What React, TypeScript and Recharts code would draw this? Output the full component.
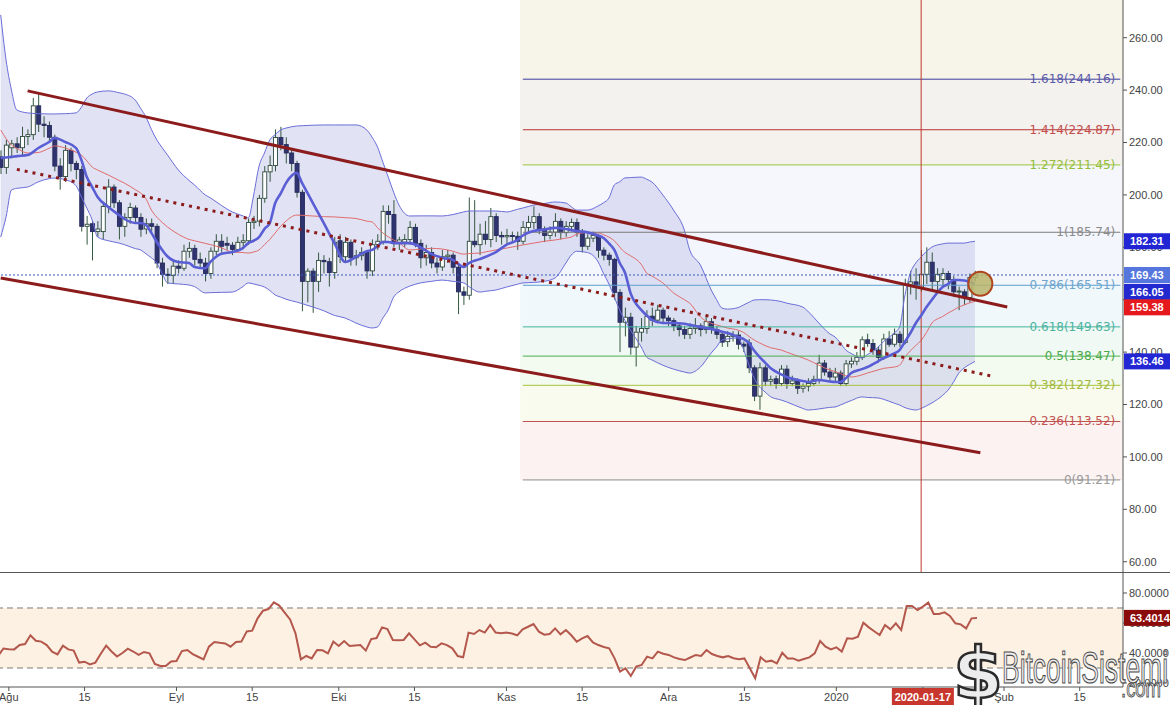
import React from 'react';
import {
  ComposedChart, Bar, Line, Area, XAxis, YAxis,
  ReferenceLine, ReferenceArea, ReferenceDot,
} from 'recharts';

type OHLC = [number, number, number, number];

// ---- daily candles [open, high, low, close], first one = Jul 30 2019 ----
const candlesJul: OHLC[] = [[214.5,217,208,210.5],[210.5,221,208,219]];
const candlesAug: OHLC[] = [
  [218,221,214,219.5],[219.5,222,216,218],[218,226,215,222.3],[222.3,225,219,223],[223,237,221,234],
  [234,239,224,227],[227,230,222,226.5],[226.5,228,220,222],[222,223,209,211],[211,214,202,207],
  [207,219,205,217],[217,218,209,212],[212,213,206,209.7],[209.7,211,186,188],[188,192,181,188.8],
  [189,190,175,186],[186,190,184,187],[186,197,183,195.6],[195.6,206,193,203],[203,204,195,197],
  [197,198,183,188],[188,193,184,191.4],[191.4,197,189,195.2],[195,196,189,191.4],[191.4,193,184,186.9],
  [187,191,185,189],[189,191,186,188],[188,189,172,174],[174,176,165,169.7],[169.7,172,166,169.3],
  [169.3,175,166,172.8],
];
const candlesSep: OHLC[] = [
  [172.8,175,170,172],[172,181,171,178.5],[178.5,182,176,179.6],[179.6,181,173,175.4],[175.4,178,172,174],
  [174,176,167,170],[170,180,168,178.5],[178.5,185,177,182.3],[182.3,185,178,180.4],[181.5,184,179,180.8],
  [180.8,182,177,179.2],[179.2,184,178,181.9],[181.9,185,180,182.5],[182.5,191,181,189.5],[189.5,192,187,190],
  [190,200,188,198.7],[198.7,211,197,208.8],[208.8,215,205,211.2],[211.2,225,209,221.9],[221.9,226,217,219.2],
  [219.2,222,212,216],[216,217,209,212],[212,213,199,201],[201,202,155.6,167],[167,172,159,170.9],
  [170.9,172,155,167],[167,178,163,175],[175,177,170,174.5],[174.5,176,165,170.4],[170.4,184,168,181.9],
];
const candlesOct: OHLC[] = [
  [182.5,185,174,176.4],[176.4,184,174,181.9],[181.9,183,173,176],[176,179,173,176.8],[176.8,180,175,178],
  [178,179,168,171],[171,183,169,181],[181,185,179,182.3],[182.3,196,181,193.7],[193.7,196,189,192.5],
  [192.5,198,180,181.9],[181.9,184,179,182.8],[182,185,180,183],[183,190,181,187.6],[187.6,189,180,181.5],
  [181.5,183,172,176],[176,181,173,178],[178,180,172,174],[174,176,170,172.5],[172.5,179,171,176.4],
  [176.4,179,174,177],[177,178,170,172.4],[172.4,174,154.5,163],[163,165,158,161.7],[161.7,199,160,182.3],
  [182.3,198,180,181],[181,189,177,185],[185,190,181,183],[183,195,180,191.7],[191.7,193,182,184.5],
  [184.5,186,181,184],
];
const candlesNov: OHLC[] = [
  [184,187,181,184.5],[184.5,186,182,184.2],[184.2,186,179,182.3],[182.3,190,181,187.6],[187.6,192,186,189.5],
  [189.5,195.6,187,191.7],[191.7,193,185,187],[187,188,182,184.5],[184.5,188,183,185.8],[185.8,193,184,189.9],
  [189.9,191,183,185.6],[185.6,190,184,188],[188,191,186,189.5],[189.5,191,184,185.6],[185.6,187,178,180.4],
  [180.4,185,179,183.5],[183.5,186,182,184.5],[184.5,185,176,178.9],[178.9,180,175,177],[177,178,173,175.4],
  [175.4,176,160,162.8],[162.8,164,140,151.4],[151.4,157,146,153.3],[153.3,155,139,141.9],[141.9,150,134.5,147.6],
  [147.6,153,144,149],[149,156,147,153.7],[153.7,157,150,152.2],[152.2,158,151,156],[156,157,151,153],
];
const candlesDec: OHLC[] = [
  [153,154,150,152],[152,153,148,150],[150,151,146,148.6],[148.6,150,145,146.8],[146.8,151,145,149],
  [149,153,147,149.6],[150,151,146,148.6],[148.6,154,147,151.6],[151.6,153,147,148.6],[148.6,150,145,146.8],
  [146.8,148,142,143.8],[144,148,142,146],[146,148,144,146.5],[146.5,148,141,143],[143,144,140,142.3],
  [143.5,145,132,134],[134,135,121.3,123.2],[123.2,136,118,134],[134,135,127,128.9],[128.9,131,127,129.5],
  [129.8,131,126,128],[128,135,127,133.5],[133.5,135,126,128],[128,131,127,129],[129,130,124,126.2],
  [126.2,128,124.5,127],[127,130,125,128],[128,131,127,129.6],[129.6,139,128,135.8],[135.8,137,131,132.4],
  [132.4,134,129,130.5],
];
const candlesJan: OHLC[] = [
  [130.5,134,129,132],[132,133,127,128],[128,137,127,135.5],[135.5,138,134,136.5],[136.5,140,135,138],
  [138,146,137,144.7],[144.7,147,142,143.3],[143.3,145,139,140.8],[140.8,142,136,138],[138,147,137,145],
  [145,148,142,143],[143,149,142,146.8],[146.8,148,142,143.7],[143.7,168,143,165.9],[165.9,171,162,166.8],
  [166.8,172,160,164.8],[164.8,179,163,169.7],[169.7,180,166,174.3],[174.3,178,164,167],[167,172,163,169.7],
  [167.7,172,165,170],[170,171,164,167.7],[167.7,169,161,163],[163,165,156,163.3],[163,164,158,160.8],
  [160.8,170,159,168.5],[168.5,171,167,169.43],
];

// ---- RSI per day ----
const rsiJul = [38, 43];
const rsiAug = [42.5,42.4,45.3,46,51.8,48.2,47.6,45.3,40.9,39.1,44.9,42.4,41.6,33.6,34.2,32.4,33.6,39.5,44.9,41,37.6,40,42.9,41,38.7,40.7,39.8,32.7,31.3,31.3,34.4];
const rsiSep = [34.7,41.3,42,39.3,37.5,35.8,44.2,47.3,46.8,46.4,44.2,47.3,47.6,54.4,54.9,63.1,68.2,69.3,73.8,71.6,66.9,62.4,53.1,35.8,38,36.4,42,41.8,39.8,47.6];
const rsiOct = [44.7,48,44.7,45,45.3,41.6,49.3,50,57.1,56,48.7,48.5,48.7,53.1,49.1,45.1,46.9,44.2,43.8,46.4,45.3,43.1,38,37.1,53.6,52.7,55.3,53.6,58.7,53.6,53.1];
const rsiNov = [53.6,53,51.8,55.8,57.5,59.3,54.2,52.2,52.7,56.4,52.4,55.3,51.8,47.5,49.8,51.3,47,45.3,44,43.1,36.4,27.6,29.8,24.7,30.9,32,37.6,36.4,40.9,39.5];
const rsiDec = [38.7,37.1,36,35.3,37,38.7,38,42,39.3,38,37.1,38,36.5,35.8,36.4,29.8,23.1,37.1,34.2,34.9,33.1,40.2,36.4,36.4,34.9,36,37.1,39.8,48,44.2,42.4];
const rsiJan = [43.8,40.9,49.8,49.5,50.9,60.2,57.1,54.5,52,58.7,55.8,59.8,55.3,71.3,71.3,68.7,70.9,73.6,66,66,67.1,64.7,59.8,59.1,56.4,63.1,63.4014];

// ---- Bollinger bands & moving average, read as [day, value] ----
const bbUpper: [number, number][] = [[-2,268.7],[-1,251.5],[0,240.0],[1,232.4],[3,231.3],[5,231.0],[7,230.9],[8,230.9],[10,231.0],[12,231.3],[13,233.5],[14,237.0],[15,238.5],[16,239.3],[18,239.7],[20,239.0],[21,238.5],[23,236.2],[24,233.0],[25,229.7],[26,225.0],[27,221.0],[28,218.0],[29,215.2],[31,209.5],[33,205.5],[34,203.8],[36,200.0],[37,198.8],[39,196.0],[41,193.5],[43,192.0],[44,191.2],[45,200.0],[46,211.0],[47,216.0],[48,221.0],[49,223.0],[50,224.8],[51,225.5],[53,226.3],[54,226.4],[56,226.6],[58,226.7],[60,226.7],[62,226.7],[64,226.7],[66,224.8],[67,222.0],[68,218.3],[69,212.5],[70,206.8],[71,201.0],[72,196.1],[74,191.95],[76,192.0],[78,192.0],[80,191.95],[82,192.5],[84,193.5],[85,193.86],[87,193.86],[88,193.86],[90,193.86],[92,193.5],[94,194.5],[95,195.0],[97,196.1],[99,196.7],[101,197.3],[103,196.9],[104,195.5],[105,194.2],[107,194.2],[109,195.8],[110,197.0],[111,198.8],[112,203.8],[113,205.0],[114,206.5],[115,206.6],[117,206.8],[118,206.0],[119,204.9],[121,200.0],[123,194.2],[125,186.6],[126,179.0],[128,173.2],[130,163.7],[131,160.0],[132,156.8],[133,156.4],[135,157.0],[136,158.0],[137,159.0],[138,159.9],[139,160.0],[140,160.0],[141,159.9],[143,159.3],[144,158.7],[147,157.2],[148,155.5],[150,151.1],[152,147.0],[153,145.8],[154,143.5],[155,140.8],[156,139.5],[158,137.8],[159,139.0],[161,141.9],[162,144.0],[164,147.3],[165,149.6],[166,161.8],[167,170.2],[168,174.0],[169,176.3],[170,178.5],[171,180.1],[173,181.3],[174,181.6],[175,181.6],[176,181.6],[177,181.6],[178,182.0],[179,182.31]];
const bbLower: [number, number][] = [[-2,183.9],[-1,191.6],[0,201.9],[1,202.5],[3,203.0],[5,205.0],[7,206.2],[8,206.45],[10,205.8],[12,203.5],[13,199.2],[14,195.0],[15,190.4],[16,183.9],[18,182.5],[20,181.6],[21,181.0],[23,179.5],[24,179.0],[25,177.5],[26,176.0],[27,174.0],[28,170.0],[29,166.4],[31,166.0],[33,165.6],[34,165.0],[36,162.6],[37,162.7],[39,162.8],[41,162.9],[43,165.0],[44,166.4],[45,166.0],[46,165.5],[47,164.85],[48,163.5],[49,161.8],[50,161.0],[51,160.2],[53,159.1],[54,158.5],[56,157.2],[58,155.8],[60,154.0],[62,153.0],[64,151.1],[66,149.6],[67,149.2],[68,149.6],[69,153.0],[70,156.1],[71,161.0],[72,163.0],[74,165.2],[76,166.4],[78,167.0],[80,167.5],[82,167.0],[84,166.4],[85,165.0],[87,162.9],[88,163.2],[90,163.7],[92,164.85],[94,165.9],[95,166.4],[97,166.6],[99,167.0],[101,168.3],[103,174.0],[104,177.06],[105,178.5],[107,178.0],[109,174.4],[110,170.0],[111,166.0],[112,161.0],[113,156.0],[114,152.0],[115,148.4],[117,141.95],[118,138.1],[119,137.0],[121,135.0],[123,133.5],[125,132.4],[126,132.0],[128,134.3],[130,139.66],[131,142.0],[132,144.6],[133,145.0],[135,145.4],[136,141.0],[137,135.1],[138,130.0],[139,126.7],[140,124.8],[141,123.0],[143,121.7],[144,121.0],[147,118.5],[148,117.9],[150,118.3],[152,118.9],[153,119.05],[154,119.8],[155,120.7],[156,121.5],[158,122.9],[159,122.7],[161,122.5],[162,122.0],[164,120.5],[165,119.8],[166,118.8],[167,118.2],[168,117.9],[169,118.5],[170,119.5],[171,120.6],[173,123.5],[174,125.5],[175,128.5],[176,132.0],[177,134.0],[178,135.3],[179,136.46]];
const bbMiddle: [number, number][] = [[-2,224.8],[-1,221.5],[0,219.0],[1,217.8],[3,216.0],[5,216.2],[7,217.8],[8,218.7],[10,217.9],[12,216.3],[13,215.2],[14,213.0],[15,210.65],[16,209.5],[18,207.6],[20,205.5],[21,204.5],[23,202.0],[24,200.7],[25,198.5],[26,194.2],[27,191.5],[28,189.5],[29,187.75],[31,185.0],[33,183.0],[34,182.5],[36,181.5],[37,181.0],[39,179.8],[41,178.2],[43,178.0],[44,177.8],[45,178.2],[46,179.0],[47,181.0],[48,183.0],[49,185.5],[50,188.0],[51,190.0],[53,192.3],[54,192.2],[56,191.95],[58,191.7],[60,191.6],[62,191.3],[64,191.0],[66,190.0],[67,189.66],[68,187.5],[69,185.5],[70,184.0],[71,182.8],[72,181.64],[74,179.0],[76,179.3],[78,179.6],[80,179.35],[82,178.5],[84,177.4],[85,177.6],[87,177.8],[88,178.2],[90,179.0],[92,179.7],[94,180.5],[95,180.9],[97,181.6],[99,182.3],[101,182.8],[103,183.5],[104,183.9],[105,185.0],[107,185.6],[109,185.5],[110,184.8],[111,183.9],[112,182.5],[113,180.1],[114,178.0],[115,176.8],[117,173.5],[118,170.2],[119,169.0],[121,166.4],[123,162.6],[125,160.0],[126,158.7],[128,153.4],[130,151.0],[131,150.4],[132,149.8],[133,149.2],[135,148.4],[136,147.5],[137,146.0],[138,144.6],[139,143.5],[140,142.5],[141,141.7],[143,140.8],[144,140.0],[147,137.8],[148,137.0],[150,135.0],[152,133.2],[153,132.6],[154,131.8],[155,131.0],[156,130.5],[158,131.3],[159,132.0],[161,133.2],[162,133.8],[164,134.3],[165,135.0],[166,138.1],[167,140.5],[168,142.5],[169,144.5],[170,147.5],[171,151.1],[173,153.6],[174,154.9],[175,156.0],[176,157.2],[177,158.0],[178,158.8],[179,159.38]];
const fastAverage: [number, number][] = [[-2,214.1],[-1,214.3],[0,214.5],[1,214.8],[3,215.2],[5,217.9],[7,220.2],[8,221.7],[10,220.2],[12,217.9],[13,213.3],[14,206.8],[15,203.0],[16,199.2],[18,195.4],[20,192.3],[21,190.8],[23,189.3],[24,189.3],[25,188.5],[26,185.5],[27,182.0],[28,179.0],[29,176.5],[31,174.4],[33,174.0],[34,172.5],[36,172.0],[37,174.5],[39,177.5],[41,178.2],[43,179.7],[44,181.6],[45,182.5],[46,183.9],[47,187.0],[48,189.3],[49,196.9],[50,200.5],[51,204.5],[53,208.4],[54,204.5],[56,196.9],[58,189.3],[60,181.6],[62,174.4],[64,176.3],[66,178.5],[67,179.0],[68,180.5],[69,182.0],[70,182.0],[71,181.6],[72,181.6],[74,181.6],[76,180.0],[78,177.5],[80,176.0],[82,175.2],[84,172.5],[85,174.0],[87,175.5],[88,176.3],[90,178.2],[92,181.0],[94,182.8],[95,184.5],[97,186.2],[99,186.8],[101,187.4],[103,187.0],[104,186.6],[105,186.2],[107,185.7],[109,184.5],[110,183.55],[111,181.5],[112,179.0],[113,174.0],[114,170.2],[115,162.6],[117,156.1],[118,154.0],[119,152.3],[121,151.1],[123,151.1],[125,150.8],[126,150.4],[128,149.6],[130,148.8],[131,148.4],[132,147.8],[133,147.3],[135,145.8],[136,145.0],[137,143.5],[138,140.5],[139,138.1],[140,136.0],[141,133.9],[143,131.5],[144,130.5],[147,129.0],[148,128.6],[150,129.35],[152,128.8],[153,128.6],[154,128.6],[155,130.0],[156,132.0],[158,133.5],[159,134.3],[161,136.5],[162,137.7],[164,139.5],[165,140.8],[166,144.0],[167,147.3],[168,151.0],[169,154.0],[170,157.2],[171,160.0],[173,164.85],[174,166.0],[175,167.5],[176,167.5],[177,167.3],[178,166.8],[179,166.05]];

// ---- Fibonacci levels ----
const fibRatios = ['1.618', '1.414', '1.272', '1', '0.786', '0.618', '0.5', '0.382', '0.236', '0'];
const fibValues = [244.16, 224.87, 211.45, 185.74, 165.51, 149.63, 138.47, 127.32, 113.52, 91.21];
const fibLineColors = ['#3b3b9c', '#b83232', '#9cc63c', '#7a7a7a', '#5b9fcf', '#44b39c', '#4caf50', '#a6c23c', '#c0504d', '#8c8c8c'];
const fibTextColors = ['#5a5aa8', '#c24e4e', '#93bd3f', '#8a8a8a', '#6ea5cc', '#4db3a0', '#49a949', '#a3b843', '#c25454', '#9a9a9a'];
const fibZoneColors = ['#f7f4ea', '#f3f2ee', '#f5f1ec', '#f6f6fd', '#f3f6fc', '#f1f8fb', '#f0f9f4', '#f3faef', '#fafbef', '#fcf2f2'];
const FIB_START_DAY = 95;
const FIB_END_DAY = 206;

// ---- drawings ----
const upperChannel: [number, number][] = [[3, 239.7], [185, 157.2]];
const lowerChannel: [number, number][] = [[-2, 168.25], [180, 101.6]];
const midTrend: [number, number][] = [[1, 209.75], [182, 130.9]];
const HIGHLIGHT_DAY = 169;
const circleMark: [number, number] = [180, 166.1];
const LAST_PRICE = 169.43;
const priceBadges = [
  { v: 182.31, bg: '#2125d4', shift: 0 },
  { v: 169.43, bg: '#5576dc', shift: 0 },
  { v: 166.05, bg: '#2229cf', shift: 8 },
  { v: 159.38, bg: '#e5191c', shift: 6 },
  { v: 136.46, bg: '#2327d3', shift: 0 },
];
const RSI_LAST = 63.4014;

// ---- axes ----
const FIRST_DAY = -2;
const LAST_DAY = 206;
const Y_MIN = 56.07;
const Y_MAX = 274.39;
const RSI_MIN = 17.33;
const RSI_MAX = 93.33;
const priceTicks = [60, 80, 100, 120, 140, 160, 180, 200, 220, 240, 260];
const rsiTicks = [20, 40, 60, 80];
const xTickDays = [0, 14, 31, 45, 61, 75, 92, 106, 122, 136, 153, 169, 184, 198];
const xTickLabels = ['Ağu', '15', 'Eyl', '15', 'Eki', '15', 'Kas', '15', 'Ara', '15', '2020', '2020-01-17', 'Şub', '15'];

const FONT = 'Liberation Sans, Arial, sans-serif';

// ---- build table ----
const allCandles: OHLC[] = [...candlesJul, ...candlesAug, ...candlesSep, ...candlesOct, ...candlesNov, ...candlesDec, ...candlesJan];
const allRsi: number[] = [...rsiJul, ...rsiAug, ...rsiSep, ...rsiOct, ...rsiNov, ...rsiDec, ...rsiJan];
const upMap = new Map(bbUpper);
const loMap = new Map(bbLower);
const midMap = new Map(bbMiddle);
const fastMap = new Map(fastAverage);

const rows: any[] = [];
for (let d = FIRST_DAY; d <= LAST_DAY; d++) {
  const i = d - FIRST_DAY;
  const k = allCandles[i];
  const up = upMap.get(d);
  const lo = loMap.get(d);
  rows.push({
    d,
    o: k ? k[0] : null,
    h: k ? k[1] : null,
    l: k ? k[2] : null,
    c: k ? k[3] : null,
    range: k ? [k[2], k[1]] : null,
    rsi: allRsi[i] ?? null,
    bbUp: up ?? null,
    bbLo: lo ?? null,
    bbBand: up != null && lo != null ? [lo, up] : null,
    bbMid: midMap.get(d) ?? null,
    fast: fastMap.get(d) ?? null,
  });
}

function Candle(props: any) {
  const { x, y, width, height, payload } = props;
  if (!payload || payload.c == null || y == null || height == null) return null;
  const { o, h, l, c } = payload;
  const top = Math.min(y, y + height);
  const bot = Math.max(y, y + height);
  const span = h - l;
  const k = span > 0 ? (bot - top) / span : 0;
  const py = (v: number) => top + (h - v) * k;
  const cx = x + width / 2;
  const up = c >= o;
  const bt = py(Math.max(o, c));
  const bb = py(Math.min(o, c));
  const bh = Math.max(1, bb - bt);
  return (
    <g>
      <line x1={cx} x2={cx} y1={top} y2={bot} stroke="#34573f" strokeWidth={1} />
      <rect x={cx - 2} y={bt} width={4} height={bh}
        fill={up ? '#ffffff' : '#2f3470'} stroke={up ? '#2c4a3a' : '#252a5c'} strokeWidth={0.9} />
    </g>
  );
}

function FibLabel(props: any) {
  const { viewBox, text, color } = props;
  if (!viewBox) return null;
  return (
    <text x={viewBox.x + viewBox.width - 5} y={viewBox.y + 4} textAnchor="end" fill={color}
      fontSize={12} fontFamily="DejaVu Sans, Verdana, sans-serif">{text}</text>
  );
}

function Badge(props: any) {
  const { viewBox, text, bg, shift = 0 } = props;
  if (!viewBox) return null;
  const x = viewBox.x + viewBox.width + 1;
  const y = viewBox.y + shift;
  return (
    <g>
      <rect x={x} y={y - 8} width={48} height={16} fill={bg} />
      <text x={x + 6} y={y + 4} fill="#ffffff" fontSize={11} fontWeight="bold" fontFamily={FONT}>{text}</text>
    </g>
  );
}

function XTick(props: any) {
  const { x, y, payload } = props;
  const i = xTickDays.indexOf(payload.value);
  const label = i >= 0 ? xTickLabels[i] : '';
  if (payload.value === HIGHLIGHT_DAY) {
    return (
      <g>
        <rect x={x - 31} y={y - 5} width={62} height={17} fill="#c8372d" />
        <text x={x} y={y + 8} textAnchor="middle" fill="#ffffff" fontSize={11} fontWeight="bold" fontFamily={FONT}>{label}</text>
      </g>
    );
  }
  return <text x={x} y={y + 8} textAnchor="middle" fill="#444" fontSize={11} fontFamily={FONT}>{label}</text>;
}

const yTickStyle = { fill: '#444', fontSize: 11, fontFamily: FONT };

export default function App() {
  const zoneBounds = [Y_MAX, ...fibValues];
  return (
    <div style={{ position: 'fixed', left: 0, top: 0, width: 1170, height: 705, overflow: 'hidden', background: '#fff' }}>
      {/* price panel */}
      <div style={{ position: 'absolute', left: -2, top: 0 }}>
        <ComposedChart width={1172} height={572} data={rows} margin={{ top: 0, right: 0, bottom: 0, left: 0 }}>
          <XAxis dataKey="d" hide />
          <YAxis orientation="right" width={47} domain={[Y_MIN, Y_MAX]} ticks={priceTicks} interval={0}
            allowDataOverflow tickFormatter={(v: number) => v.toFixed(2)} tick={yTickStyle}
            tickSize={4} axisLine={{ stroke: '#555' }} tickLine={{ stroke: '#555' }} />
          {fibZoneColors.map((col, i) => (
            <ReferenceArea key={'z' + i} x1={FIB_START_DAY} x2={FIB_END_DAY} y1={zoneBounds[i + 1]} y2={zoneBounds[i]}
              fill={col} fillOpacity={1} stroke="none" ifOverflow="hidden" />
          ))}
          <Area dataKey="bbBand" type="monotone" connectNulls fill="#c9cbeb" fillOpacity={0.55} stroke="none"
            isAnimationActive={false} dot={false} activeDot={false} />
          <Line dataKey="bbUp" type="monotone" connectNulls stroke="#6a6ed8" strokeWidth={1} dot={false} activeDot={false} isAnimationActive={false} />
          <Line dataKey="bbLo" type="monotone" connectNulls stroke="#6a6ed8" strokeWidth={1} dot={false} activeDot={false} isAnimationActive={false} />
          <Line dataKey="bbMid" type="monotone" connectNulls stroke="#e06c6c" strokeWidth={1} dot={false} activeDot={false} isAnimationActive={false} />
          {fibValues.map((v, i) => (
            <ReferenceLine key={'f' + i} segment={[{ x: FIB_START_DAY, y: v }, { x: FIB_END_DAY, y: v }]}
              stroke={fibLineColors[i]} strokeWidth={1} ifOverflow="visible"
              label={<FibLabel text={`${fibRatios[i]}(${v.toFixed(2)})`} color={fibTextColors[i]} />} />
          ))}
          <ReferenceLine y={LAST_PRICE} stroke="#3b5bb8" strokeDasharray="2 2" strokeWidth={1} />
          <ReferenceLine x={HIGHLIGHT_DAY} stroke="#c0392b" strokeWidth={1} />
          <Bar dataKey="range" barSize={4} shape={(p: any) => <Candle {...p} />} isAnimationActive={false} />
          <Line dataKey="fast" type="monotone" connectNulls stroke="#5a5ed4" strokeWidth={2.6} dot={false} activeDot={false} isAnimationActive={false} />
          <ReferenceLine segment={upperChannel.map(([x, y]) => ({ x, y }))} stroke="#8c1b1b" strokeWidth={3} ifOverflow="visible" />
          <ReferenceLine segment={lowerChannel.map(([x, y]) => ({ x, y }))} stroke="#8c1b1b" strokeWidth={3} ifOverflow="visible" />
          <ReferenceLine segment={midTrend.map(([x, y]) => ({ x, y }))} stroke="#8c1b1b" strokeWidth={3} strokeDasharray="3 5" ifOverflow="visible" />
          <ReferenceDot x={circleMark[0]} y={circleMark[1]} r={12} fill="#b7b46a" fillOpacity={0.85} stroke="#b0441c" strokeWidth={2} ifOverflow="visible" />
        </ComposedChart>
      </div>
      {/* price badges drawn above the axis */}
      <div style={{ position: 'absolute', left: -2, top: 0 }}>
        <ComposedChart width={1172} height={572} data={rows} margin={{ top: 0, right: 0, bottom: 0, left: 0 }}>
          <XAxis dataKey="d" hide />
          <YAxis orientation="right" width={47} domain={[Y_MIN, Y_MAX]} allowDataOverflow tick={false} axisLine={false} tickLine={false} />
          {priceBadges.map((b) => (
            <ReferenceLine key={'b' + b.v} y={b.v} stroke="none" ifOverflow="visible"
              label={<Badge text={b.v.toFixed(2)} bg={b.bg} shift={b.shift} />} />
          ))}
        </ComposedChart>
      </div>
      <div style={{ position: 'absolute', left: 0, top: 572, width: 1170, height: 1, background: '#555' }} />
      {/* RSI panel */}
      <div style={{ position: 'absolute', left: -2, top: 573 }}>
        <ComposedChart width={1172} height={132} data={rows} margin={{ top: 0, right: 0, bottom: 0, left: 0 }}>
          <XAxis dataKey="d" ticks={xTickDays} interval={0} tick={<XTick />} height={18} tickSize={4}
            axisLine={{ stroke: '#555' }} tickLine={{ stroke: '#555' }} />
          <YAxis orientation="right" width={47} domain={[RSI_MIN, RSI_MAX]} ticks={rsiTicks} interval={0}
            allowDataOverflow tickFormatter={(v: number) => v.toFixed(4)} tick={yTickStyle}
            tickSize={4} axisLine={{ stroke: '#555' }} tickLine={{ stroke: '#555' }} />
          <ReferenceArea y1={30} y2={70} fill="#fdf1e3" fillOpacity={1} stroke="none" />
          <ReferenceLine y={70} stroke="#7a7a7a" strokeDasharray="6 4" />
          <ReferenceLine y={30} stroke="#7a7a7a" strokeDasharray="6 4" />
          <Line dataKey="rsi" type="linear" stroke="#b4574c" strokeWidth={2} dot={false} activeDot={false} isAnimationActive={false} />
        </ComposedChart>
      </div>
      <div style={{ position: 'absolute', left: -2, top: 573 }}>
        <ComposedChart width={1172} height={132} data={rows} margin={{ top: 0, right: 0, bottom: 0, left: 0 }}>
          <XAxis dataKey="d" height={18} tick={false} axisLine={false} tickLine={false} />
          <YAxis orientation="right" width={47} domain={[RSI_MIN, RSI_MAX]} allowDataOverflow tick={false} axisLine={false} tickLine={false} />
          <ReferenceLine y={RSI_LAST} stroke="none" ifOverflow="visible"
            label={<Badge text={RSI_LAST.toFixed(4)} bg="#8b0a0a" />} />
        </ComposedChart>
      </div>
      {/* watermark */}
      <svg width={1170} height={705} style={{ position: 'absolute', left: 0, top: 0, pointerEvents: 'none' }}>
        <text x={978} y={698} textAnchor="middle" fontSize={72} fontWeight="bold" fontFamily="DejaVu Sans, sans-serif"
          fill="#ececec" stroke="#2b2b2b" strokeWidth={2.5}>$</text>
        <text x={1002} y={683} fontSize={44} fontFamily={FONT} fill="#ececec" stroke="#4a4a4a" strokeWidth={1.2}
          textLength={166} lengthAdjust="spacingAndGlyphs">BitcoinSistemi</text>
        <text x={1121} y={697} fontSize={26} fontFamily={FONT} fill="#ececec" stroke="#4a4a4a" strokeWidth={1}
          textLength={40} lengthAdjust="spacingAndGlyphs">.com</text>
      </svg>
    </div>
  );
}
